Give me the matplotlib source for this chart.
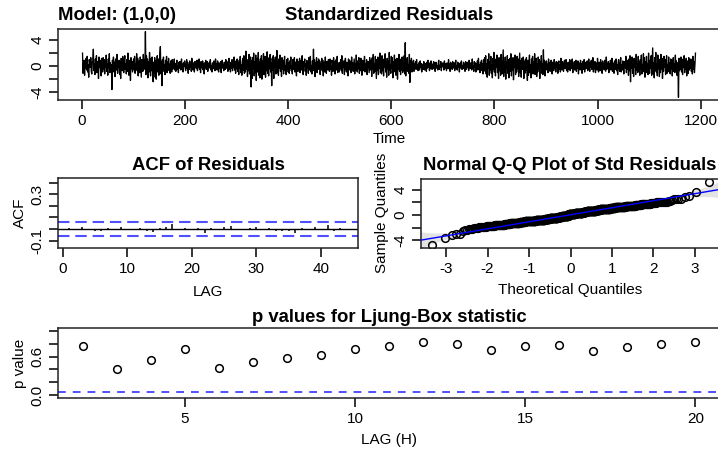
from __future__ import annotations

import statistics

import matplotlib as mpl
mpl.use("Agg")
import matplotlib.pyplot as plt
import numpy as np

# standardized residuals (tenths), t = 1..n
RESID_TENTHS = [
    20, -11, 4, 9, -14, 7, -3, 12, -6, 15, -9, 2, -17, 10, 5, -2, 13, -8, -12, 6,
    8, 26, -7, 3, -13, 11, -4, 16, -10, 1, 7, -19, 14, -2, 9, -6, -15, 12, 4, -9,
    13, -5, 10, -12, 6, -1, 17, -8, 3, -14, 11, -3, 19, -10, 5, -7, 2, -36, 9, -4,
    14, -9, 6, -16, 11, 2, -6, 18, -11, 4, -2, 9, -13, 7, -19, 12, 1, -7, 15, -3,
    -10, 8, 16, -5, 3, -12, 10, -8, 20, -1, -14, 6, 9, -22, 13, -4, 7, -9, 2, 11,
    -6, 15, -11, 4, -3, 19, -7, 12, -15, 1, 8, -10, 14, -2, -17, 10, 5, -8, 18, -5,
    9, -4, 53, -13, 16, -6, 11, -18, 7, -9, 21, -3, -15, 12, -7, 14, -11, -24, 6, -10,
    13, -17, 8, -20, 5, 16, -9, 11, -14, 3, 19, 30, -12, 7, -30, 10, -5, 14, -8, 2,
    -13, 9, -4, 15, -10, 6, -2, 12, -7, 3, -11, 8, 1, -9, 10, -5, 7, -3, 11, -6,
    4, -8, 2, 9, -5, 1, -10, 6, -3, 7, -1, -6, 11, -4, 3, -9, 5, 0, 8, -2,
    -7, 3, 10, -4, 6, -11, 2, -5, 8, -1, 4, -8, 12, -3, -6, 5, 1, -9, 7, -2,
    6, -4, 9, -7, 2, -1, 11, -5, 3, -10, 7, 0, -3, 8, -6, 4, -12, 5, -2, 9,
    -5, 2, 7, -8, 4, -1, 6, -3, 10, -6, 1, -9, 5, 3, -4, 8, -2, -7, 11, 0,
    3, -6, 8, -2, -9, 5, 1, -4, 7, -10, 4, 9, -3, 2, -7, 6, -1, -5, 10, -3,
    7, -2, -8, 4, 12, -5, 1, -9, 6, -3, 10, -7, 3, -1, 14, -6, 2, -11, 8, -4,
    11, -8, 5, -13, 9, -3, 15, -10, 2, -14, 7, 12, -6, 16, -11, 4, -9, 23, -5, 8,
    -16, 10, -7, 18, -12, 5, 14, -32, 9, -19, 13, -4, 20, -15, 7, -10, 17, -22, 3, 12,
    -9, 21, -14, 6, -18, 11, -5, 16, -20, 8, -2, 19, -13, 4, 15, -17, 10, -7, 22, -11,
    7, -15, 13, -4, 18, -9, 5, -30, 12, -6, 16, -19, 9, -2, 14, -12, 3, 24, -10, 6,
    -14, 11, -3, 17, -8, 2, -16, 13, -5, 9, -12, 6, 15, -7, 1, -13, 10, -4, 12, -9,
    5, -11, 8, -3, 14, -7, 1, -12, 10, -5, 3, 13, -9, 6, -2, -15, 11, 4, -8, 7,
    -4, 12, -10, 2, 9, -6, 16, -3, -13, 7, 0, 11, -8, 4, -14, 9, -1, 6, -11, 13,
    -6, 3, 15, -9, 1, -12, 8, -4, 26, -7, 10, -16, 5, -2, 13, -10, 7, -5, 11, -3,
    8, -13, 4, -1, 12, -7, 9, -15, 2, 6, -9, 14, -4, -11, 7, 3, -6, 10, -2, -8,
    11, -5, 1, -14, 9, 4, -8, 13, -3, 7, -12, 2, 10, -6, 15, -10, 5, -1, -9, 6,
    -3, 10, -7, 16, -11, 3, -2, 8, -13, 5, 12, -4, -9, 6, 1, -15, 11, -6, 9, -1,
    7, -10, 14, -3, 5, -8, 2, 11, -12, 4, -6, 17, -1, -9, 8, -4, 13, -11, 3, -7,
    12, -2, -14, 6, 9, -7, 1, 15, -9, 4, -5, 10, -13, 3, 7, -1, -10, 13, -6, 2,
    9, -16, 13, -5, 18, -11, 4, -8, 15, -2, -19, 10, -6, 14, -13, 7, -3, 20, -10, 5,
    -12, 16, -7, 3, -15, 11, -1, 19, -9, 6, -17, 12, -4, 8, -14, 21, -6, 2, -11, 15,
    -3, 13, -18, 7, -9, 17, -2, 10, -14, 4, 12, -20, 6, -5, 18, -8, 1, -13, 11, -6,
    14, -10, 5, -7, 16, -12, 36, -15, 9, -4, 13, -8, 2, -11, 18, -25, 8, -3, 12, -9,
    6, -4, 9, -8, 3, -1, 7, -5, 10, -3, 2, -7, 5, 0, -6, 8, -2, 4, -9, 1,
    3, -5, 7, -2, -6, 4, 1, -8, 6, -3, 9, -1, 2, -7, 5, -4, 8, -2, -5, 3,
    -4, 7, -1, 5, -8, 2, 6, -3, 0, -6, 4, 9, -5, 1, -2, 7, -7, 3, -1, 5,
    2, -6, 8, -3, 4, -1, -7, 5, 1, -4, 10, -2, 3, -8, 6, -1, 4, -5, 7, -3,
    -2, 5, -7, 3, 9, -4, 1, -6, 6, -2, 4, -9, 2, 5, -3, 8, -5, 0, -4, 6,
    4, -3, -8, 7, 1, -5, 6, -1, 3, -7, 9, -2, -4, 5, 2, -6, 11, -3, 1, -8,
    7, -2, 5, -9, 3, -1, 8, -6, 12, -4, 2, -10, 6, -3, 9, -7, 4, -12, 10, -5,
    13, -8, 16, -12, 4, -17, 10, -3, 19, -14, 7, -6, 15, -11, 2, -18, 12, -5, 21, -9,
    6, -15, 11, -2, 17, -10, 3, -19, 13, -7, 9, -14, 18, -4, -12, 8, 25, -16, 5, -9,
    14, -20, 7, -3, 16, -11, 10, -18, 2, 12, -8, 19, -15, 4, -6, 13, -21, 9, -1, 17,
    -13, 6, -9, 15, -4, 11, -16, 3, 20, -10, 8, -17, 12, -5, 1, 14, -19, 7, -11, 10,
    -6, 13, -8, -22, 9, -14, 4, 17, -10, 2, -18, 11, -3, 15, -12, 6, -7, 19, -13, 5,
    12, -16, 3, -9, 14, -5, 10, -19, 7, -2, 16, -11, 4, -13, 25, -8, 9, -15, 6, -4,
    8, -6, 3, -10, 11, -2, 5, -8, 1, 9, -4, -12, 6, 2, -7, 10, -3, 4, -9, 7,
    -1, 6, -11, 4, 8, -5, 2, -9, 12, -3, -6, 7, 1, -8, 5, 9, -4, -2, 10, -7,
    3, -9, 6, -1, -5, 10, -7, 2, 8, -4, 11, -10, 4, -2, 7, -6, 0, 9, -8, 5,
    -3, 8, -12, 5, 1, -6, 9, -2, 4, -11, 7, 3, -5, 10, -9, 2, 6, -4, -1, 8,
    -7, 4, 11, -3, -8, 6, -2, 9, -5, 1, 13, -9, 3, -4, 7, -10, 5, 2, -6, 12,
    -4, -9, 6, 2, -7, 10, -1, 5, -11, 8, -3, 4, -6, 9, 1, -8, 14, -5, 3, -2,
    7, -10, 4, -3, 9, -6, 1, 12, -8, 5, -2, -11, 8, 3, -5, 11, -7, 2, -13, 6,
    10, -4, -8, 5, 13, -9, 2, -6, 8, -1, -12, 7, 4, -3, 15, -10, 6, -5, 9, -14,
    11, -7, 16, -24, 8, -3, 14, -11, 5, -16, 12, -2, 9, -13, 18, -6, 3, -10, 15, -8,
    6, -14, 10, -4, 17, -12, 2, -9, 19, -6, 13, -17, 7, -1, 15, -10, 4, -13, 20, -5,
    -11, 9, -3, 16, -14, 8, 28, -12, 5, -18, 13, -6, 21, -9, 3, -15, 17, -4, 11, -16,
    7, -10, 18, -5, 12, -19, 4, -8, 15, -2, 10, -13, 6, 16, -11, 2, -7, 14, -9, 5,
    -12, 11, -4, 9, -15, 6, 13, -8, 3, -10, 17, -6, 8, -14, 5, -2, -48, 12, -7, 10,
    -5, 14, -9, 3, -13, 11, -2, 16, -10, 6, -4, 12, -15, 8, 1, -11, 13, -6, 9, -3,
    11, -8, 4, -12, 15, -5, 7, -10, 3, 20,
]

# sample ACF of residuals, lags 1..44
ACF_VALUES = [
    0.012, -0.005, 0.020, -0.008, -0.015, -0.020, 0.006, -0.010, 0.015, 0.004,
    -0.006, 0.010, -0.018, -0.022, 0.008, 0.018, 0.040, -0.004, 0.012, -0.010,
    0.006, -0.038, 0.010, -0.012, 0.016, 0.030, 0.004, -0.008, 0.010, 0.022,
    -0.006, 0.012, -0.020, -0.014, -0.018, -0.034, 0.008, -0.010, 0.022, -0.006,
    0.036, -0.016, 0.012, -0.008,
]

LB_LAGS = [2, 3, 4, 5, 6, 7, 8, 9, 10, 11, 12, 13, 14, 15, 16, 17, 18, 19, 20]
LB_PVALUES = [0.77, 0.40, 0.55, 0.71, 0.43, 0.51, 0.57, 0.62, 0.71, 0.76,
              0.82, 0.80, 0.70, 0.77, 0.78, 0.68, 0.75, 0.79, 0.83]

W, H = 718, 450
BLUE = "#5050ff"
BAND = "#e3e3e3"
FONT = ["Liberation Sans", "DejaVu Sans"]


def configure_style() -> None:
    mpl.rcParams.update(
        {
            "font.family": FONT,
            "font.size": 11,
            "axes.linewidth": 1.1,
            "axes.edgecolor": "#222222",
            "axes.unicode_minus": False,
            "xtick.major.size": 6.3,
            "ytick.major.size": 6.3,
            "xtick.major.width": 1.1,
            "ytick.major.width": 1.1,
            "xtick.major.pad": 3.5,
            "ytick.major.pad": 3.5,
            "xtick.labelsize": 11,
            "ytick.labelsize": 11,
            "figure.facecolor": "white",
        }
    )


def px_box(left, top, right, bottom):
    return [left / W, 1 - bottom / H, (right - left) / W, (bottom - top) / H]


def label(fig, x, y, s, bold=False, rot=0, size=11, ha="center"):
    fig.text(x / W, 1 - y / H, s, ha=ha, va="center", rotation=rot,
             fontsize=size, fontweight="bold" if bold else "normal")


def r_axes(ax, yticks, ylabels) -> None:
    ax.set_yticks(yticks, labels=ylabels)
    for tick in ax.get_yticklabels():
        tick.set_rotation(90)
        tick.set_va("center")
    ax.tick_params(direction="out", top=False, right=False)


def main() -> None:
    configure_style()
    resid = np.array(RESID_TENTHS, dtype=float) / 10.0
    n = len(resid)
    t = np.arange(1, n + 1)

    fig = plt.figure(figsize=(W / 100, H / 100), dpi=100)

    # standardized residuals
    ax1 = fig.add_axes(px_box(58, 29, 720, 100))
    ax1.plot(t, resid, color="black", lw=0.95)
    ax1.margins(x=0.04, y=0.04)
    ax1.set_xticks([0, 200, 400, 600, 800, 1000, 1200])
    r_axes(ax1, [-4, -2, 0, 2, 4], ["-4", "", "0", "", "4"])
    label(fig, 58, 16, "Model: (1,0,0)", bold=True, size=13.3, ha="left")
    label(fig, 389, 16, "Standardized Residuals", bold=True, size=13.3)
    label(fig, 389, 139, "Time")

    # ACF of residuals
    lags = np.arange(1, len(ACF_VALUES) + 1)
    ax2 = fig.add_axes(px_box(58, 178, 358, 248))
    ax2.vlines(lags, 0, ACF_VALUES, color="black", lw=1.1)
    ax2.axhline(0, color="black", lw=1.0)
    lim = 1.96 / np.sqrt(n)
    for yv in (lim, -lim):
        ax2.axhline(yv, color=BLUE, lw=1.5, linestyle=(0, (5.5, 2.8)))
    ax2.margins(x=0.04)
    ax2.set_ylim(-0.163, 0.44)
    ax2.set_xticks([0, 10, 20, 30, 40])
    r_axes(ax2, [-0.1, 0.0, 0.1, 0.2, 0.3, 0.4], ["-0.1", "", "", "", "0.3", ""])
    label(fig, 208, 166, "ACF of Residuals", bold=True, size=13.3)
    label(fig, 208, 292, "LAG")
    label(fig, 20, 213, "ACF", rot=90)

    # normal Q-Q plot
    nd = statistics.NormalDist()
    probs = (np.arange(1, n + 1) - 0.5) / n
    theo = np.array([nd.inv_cdf(p) for p in probs])
    samp = np.sort(resid)
    q25, q75 = np.quantile(resid, [0.25, 0.75])
    z25, z75 = nd.inv_cdf(0.25), nd.inv_cdf(0.75)
    slope = (q75 - q25) / (z75 - z25)
    icept = q25 - slope * z25

    ax3 = fig.add_axes(px_box(421, 179, 720, 248))
    zgrid = np.linspace(-3.7, 3.7, 200)
    pg = np.array([nd.cdf(z) for z in zgrid])
    dens = np.array([nd.pdf(z) for z in zgrid])
    se = slope / dens * np.sqrt(pg * (1 - pg) / n)
    fit = icept + slope * zgrid
    ax3.fill_between(zgrid, fit - 1.96 * se, fit + 1.96 * se, color=BAND, lw=0, zorder=1)
    ax3.plot(theo, samp, ls="none", marker="o", ms=5.5, mfc="none", mec="black",
             mew=1.1, zorder=2)
    ax3.set_xlim(theo[0] - 0.04 * (theo[-1] - theo[0]), theo[-1] + 0.04 * (theo[-1] - theo[0]))
    ax3.set_ylim(samp[0] - 0.04 * (samp[-1] - samp[0]), samp[-1] + 0.04 * (samp[-1] - samp[0]))
    ax3.plot(zgrid, fit, color="blue", lw=1.0, zorder=3)
    ax3.set_xticks([-3, -2, -1, 0, 1, 2, 3])
    r_axes(ax3, [-4, -2, 0, 2, 4], ["-4", "", "0", "", "4"])
    label(fig, 570, 166, "Normal Q-Q Plot of Std Residuals", bold=True, size=13.3)
    label(fig, 570, 290, "Theoretical Quantiles")
    label(fig, 382, 213, "Sample Quantiles", rot=90)

    # Ljung-Box p values
    ax4 = fig.add_axes(px_box(58, 328, 720, 398))
    ax4.plot(LB_LAGS, LB_PVALUES, ls="none", marker="o", ms=5.5, mfc="none",
             mec="black", mew=1.1)
    ax4.axhline(0.05, color=BLUE, lw=1.4, linestyle=(0, (4, 3.6)))
    ax4.margins(x=0.04)
    ax4.set_ylim(-0.04, 1.04)
    ax4.set_xticks([5, 10, 15, 20])
    r_axes(ax4, [0, 0.2, 0.4, 0.6, 0.8, 1.0], ["0.0", "", "", "0.6", "", ""])
    label(fig, 389, 317, "p values for Ljung-Box statistic", bold=True, size=13.3)
    label(fig, 389, 440, "LAG (H)")
    label(fig, 20, 363, "p value", rot=90)

    fig.savefig("out.png", dpi=100)
    plt.close(fig)


if __name__ == "__main__":
    main()
